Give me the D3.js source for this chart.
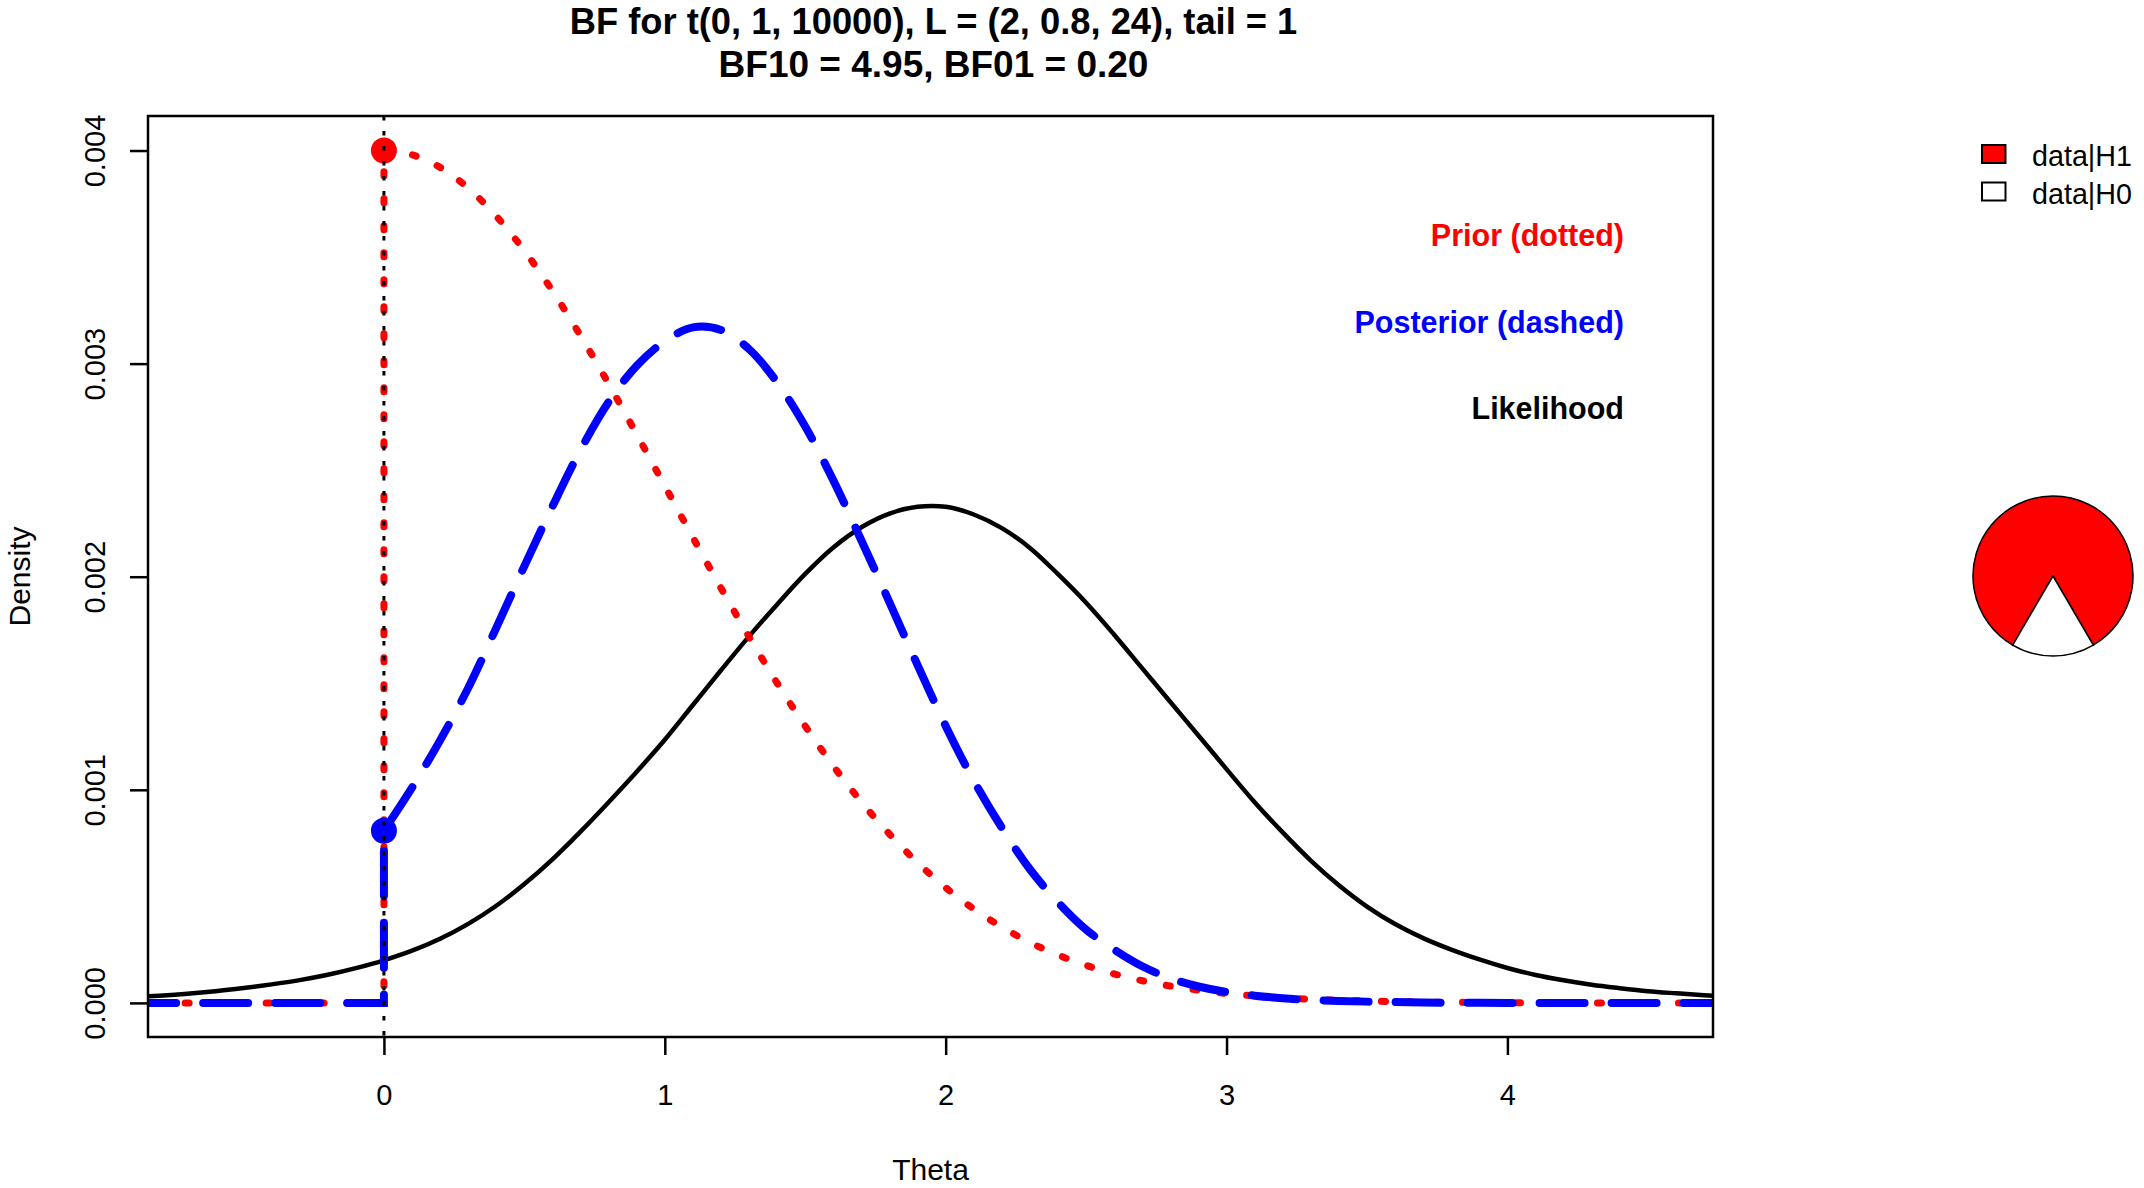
<!DOCTYPE html>
<html>
<head>
<meta charset="utf-8">
<script src="https://cdnjs.cloudflare.com/ajax/libs/d3/7.8.5/d3.min.js"></script>
<style>
  html, body { margin: 0; padding: 0; background: #fff; }
  svg { display: block; font-family: "Liberation Sans", Arial, Helvetica, sans-serif; }
</style>
</head>
<body>
<div id="chart"></div>
<script>
// values
var theta = [-0.9, -0.8, -0.7, -0.6, -0.5, -0.4, -0.3, -0.2, -0.1,
    0.0, 0.1, 0.2, 0.3, 0.4, 0.5, 0.6, 0.7, 0.8, 0.9,
    1.0, 1.1, 1.2, 1.3, 1.4, 1.5, 1.6, 1.7, 1.8, 1.9,
    2.0, 2.1, 2.2, 2.3, 2.4, 2.5, 2.6, 2.7, 2.8, 2.9,
    3.0, 3.1, 3.2, 3.3, 3.4, 3.5, 3.6, 3.7, 3.8, 3.9,
    4.0, 4.1, 4.2, 4.3, 4.4, 4.5, 4.6, 4.7, 4.8];

var likelihood = [0.000027, 0.000034, 0.000043, 0.000055, 0.000070, 0.000087, 0.000107, 0.000132, 0.000163,
    0.000200, 0.000245, 0.000301, 0.000371, 0.000456, 0.000558, 0.000674, 0.000804, 0.000942, 0.001085,
    0.001235, 0.001398, 0.001561, 0.001720, 0.001870, 0.002013, 0.002137, 0.002232, 0.002296, 0.002328,
    0.002328, 0.002292, 0.002228, 0.002135, 0.002012, 0.001878, 0.001728, 0.001570, 0.001412, 0.001255,
    0.001097, 0.000942, 0.000800, 0.000668, 0.000552, 0.000452, 0.000370, 0.000304, 0.000250, 0.000204,
    0.000164, 0.000131, 0.000106, 0.000085, 0.000069, 0.000055, 0.000045, 0.000036, 0.000029];

var prior = [0, 0, 0, 0, 0, 0, 0, 0, 0,
    0.004000, 0.003980, 0.003921, 0.003824, 0.003692, 0.003530, 0.003341, 0.003131, 0.002905, 0.002668,
    0.002426, 0.002184, 0.001947, 0.001718, 0.001501, 0.001299, 0.001112, 0.000943, 0.000792, 0.000658,
    0.000541, 0.000441, 0.000356, 0.000284, 0.000225, 0.000176, 0.000136, 0.000104, 0.000079, 0.000060,
    0.000044, 0.000033, 0.000024, 0.000017, 0.000012, 0.000009, 0.000006, 0.000004, 0.000003, 0.000002,
    0.000001, 0.000001, 0.000001, 0, 0, 0, 0, 0, 0];

var posterior = [0, 0, 0, 0, 0, 0, 0, 0, 0,
    0.000808, 0.001010, 0.001232, 0.001478, 0.001760, 0.002050, 0.002330, 0.002595, 0.002820, 0.002990,
    0.003105, 0.003170, 0.003158, 0.003068, 0.002912, 0.002705, 0.002452, 0.002170, 0.001880, 0.001585,
    0.001300, 0.001043, 0.000822, 0.000627, 0.000472, 0.000344, 0.000250, 0.000172, 0.000115, 0.000077,
    0.000051, 0.000034, 0.000022, 0.000014, 0.000009, 0.000006, 0.000004, 0.000002, 0.000001, 0.000001,
    0, 0, 0, 0, 0, 0, 0, 0, 0];

var xTicks = [0, 1, 2, 3, 4];
var yTicks = [0, 0.001, 0.002, 0.003, 0.004];
var bf10 = 4.95;
var pieLabels = ['data|H1', 'data|H0'];
var titleLines = ['BF for t(0, 1, 10000), L = (2, 0.8, 24), tail = 1',
    'BF10 = ' + bf10.toFixed(2) + ', BF01 = ' + (1 / bf10).toFixed(2)];
var curveLabels = ['Prior (dotted)', 'Posterior (dashed)', 'Likelihood'];

var width = 2144, height = 1188;
var plot = {left: 148, right: 1713, top: 116, bottom: 1037};

var svg = d3.select('#chart').append('svg')
    .attr('width', width)
    .attr('height', height);

var x = d3.scaleLinear().domain([-0.840, 4.732]).range([plot.left, plot.right]);
var y = d3.scaleLinear().domain([-0.00016, 0.004162]).range([plot.bottom, plot.top]);

svg.append('clipPath').attr('id', 'plot-clip')
    .append('rect')
    .attr('x', plot.left)
    .attr('y', plot.top)
    .attr('width', plot.right - plot.left)
    .attr('height', plot.bottom - plot.top);

var panel = svg.append('g').attr('clip-path', 'url(#plot-clip)');

var points = function(values){
    return theta.map(function(t, i){ return [t, values[i]]; });
};
var flatLine = d3.line()
    .x(function(d){ return x(d[0]); })
    .y(function(d){ return y(d[1]); });
var smoothLine = d3.line()
    .x(function(d){ return x(d[0]); })
    .y(function(d){ return y(d[1]); })
    .curve(d3.curveCatmullRom.alpha(0.5));

// one-sided densities: flat at zero left of 0, jump at 0, smooth after
var halfPath = function(values){
    var pts = points(values);
    var left = pts.filter(function(p){ return p[0] < 0; });
    var right = pts.filter(function(p){ return p[0] >= 0; });
    left.push([0, left[left.length - 1][1]]);
    return flatLine(left) + 'L' + smoothLine(right).slice(1);
};

panel.append('path')
    .attr('d', smoothLine(points(likelihood)))
    .style('fill', 'none')
    .style('stroke', '#000')
    .style('stroke-width', 4.5);

panel.append('path')
    .attr('d', halfPath(prior))
    .style('fill', 'none')
    .style('stroke', '#ff0000')
    .style('stroke-width', 7)
    .style('stroke-linecap', 'round')
    .style('stroke-dasharray', '4 23');

panel.append('path')
    .attr('d', halfPath(posterior))
    .style('fill', 'none')
    .style('stroke', '#0000ff')
    .style('stroke-width', 8)
    .style('stroke-linecap', 'round')
    .style('stroke-dasharray', '45 27');

var zeroIndex = theta.indexOf(0);
panel.selectAll('circle.h1-point')
    .data([[0, prior[zeroIndex], '#ff0000'], [0, posterior[zeroIndex], '#0000ff']])
    .enter().append('circle')
    .attr('class', 'h1-point')
    .attr('cx', function(d){ return x(d[0]); })
    .attr('cy', function(d){ return y(d[1]); })
    .attr('r', 13)
    .style('fill', function(d){ return d[2]; });

panel.append('line')
    .attr('x1', x(0)).attr('x2', x(0))
    .attr('y1', plot.top).attr('y2', plot.bottom)
    .style('stroke', '#000')
    .style('stroke-width', 3)
    .style('stroke-dasharray', '4.5 10.5');

// axes
var xAxis = d3.axisBottom(x).tickValues(xTicks).tickSize(18).tickFormat(d3.format('d'));
var gx = svg.append('g')
    .attr('transform', 'translate(0,' + plot.bottom + ')')
    .call(xAxis);
gx.select('.domain').remove();
gx.selectAll('.tick line').style('stroke', '#000').style('stroke-width', 2.5);
gx.selectAll('.tick text')
    .attr('y', 68).attr('dy', 0)
    .style('font-size', '29px')
    .style('fill', '#000')
    .style('font-family', '"Liberation Sans", Arial, sans-serif');

var yAxis = d3.axisLeft(y).tickValues(yTicks).tickSize(18).tickFormat(d3.format('.3f'));
var gy = svg.append('g')
    .attr('transform', 'translate(' + plot.left + ',0)')
    .call(yAxis);
gy.select('.domain').remove();
gy.selectAll('.tick line').style('stroke', '#000').style('stroke-width', 2.5);
gy.selectAll('.tick text')
    .attr('x', 0).attr('y', -43).attr('dy', 0)
    .attr('transform', 'rotate(-90)')
    .attr('text-anchor', 'middle')
    .style('font-size', '29px')
    .style('fill', '#000')
    .style('font-family', '"Liberation Sans", Arial, sans-serif');

svg.append('rect')
    .attr('x', plot.left)
    .attr('y', plot.top)
    .attr('width', plot.right - plot.left)
    .attr('height', plot.bottom - plot.top)
    .style('fill', 'none')
    .style('stroke', '#000')
    .style('stroke-width', 2.5);

// titles
var midX = (plot.left + plot.right) / 2;
svg.selectAll('text.title')
    .data(titleLines)
    .enter().append('text')
    .attr('class', 'title')
    .attr('x', midX + 3)
    .attr('y', function(d, i){ return 34 + i * 43; })
    .attr('text-anchor', 'middle')
    .style('font-size', function(d, i){ return i === 0 ? '36.3px' : '37px'; })
    .style('font-weight', 'bold')
    .text(function(d){ return d; });

svg.append('text')
    .attr('x', midX)
    .attr('y', 1180)
    .attr('text-anchor', 'middle')
    .style('font-size', '30px')
    .text('Theta');

svg.append('text')
    .attr('transform', 'translate(30,' + ((plot.top + plot.bottom) / 2) + ') rotate(-90)')
    .attr('text-anchor', 'middle')
    .style('font-size', '30px')
    .text('Density');

// curve labels
svg.selectAll('text.curve-label')
    .data(curveLabels)
    .enter().append('text')
    .attr('class', 'curve-label')
    .attr('x', 1624)
    .attr('y', function(d, i){ return 246 + i * 86.5; })
    .attr('text-anchor', 'end')
    .style('font-size', '30.5px')
    .style('font-weight', 'bold')
    .style('fill', function(d, i){ return ['#ff0000', '#0000ff', '#000'][i]; })
    .text(function(d){ return d; });

// legend
var legend = svg.selectAll('g.legend-item')
    .data(pieLabels)
    .enter().append('g')
    .attr('class', 'legend-item')
    .attr('transform', function(d, i){ return 'translate(1982,' + (145 + i * 37.5) + ')'; });
legend.append('rect')
    .attr('width', 23.5)
    .attr('height', 18)
    .style('fill', function(d, i){ return i === 0 ? '#ff0000' : '#fff'; })
    .style('stroke', '#000')
    .style('stroke-width', 2);
legend.append('text')
    .attr('x', 50)
    .attr('y', 21)
    .style('font-size', '28.7px')
    .text(function(d){ return d; });

// pie of data|H1 vs data|H0
var h0Share = 2 * Math.PI / (1 + bf10);
var pie = d3.pie().sort(null)
    .startAngle(Math.PI + h0Share / 2)
    .endAngle(Math.PI + h0Share / 2 + 2 * Math.PI);
var arc = d3.arc().innerRadius(0).outerRadius(80);
svg.append('g')
    .attr('transform', 'translate(2053,576)')
    .selectAll('path')
    .data(pie([bf10, 1]))
    .enter().append('path')
    .attr('d', arc)
    .style('fill', function(d, i){ return i === 0 ? '#ff0000' : '#fff'; })
    .style('stroke', '#000')
    .style('stroke-width', 1.5);
</script>
</body>
</html>
